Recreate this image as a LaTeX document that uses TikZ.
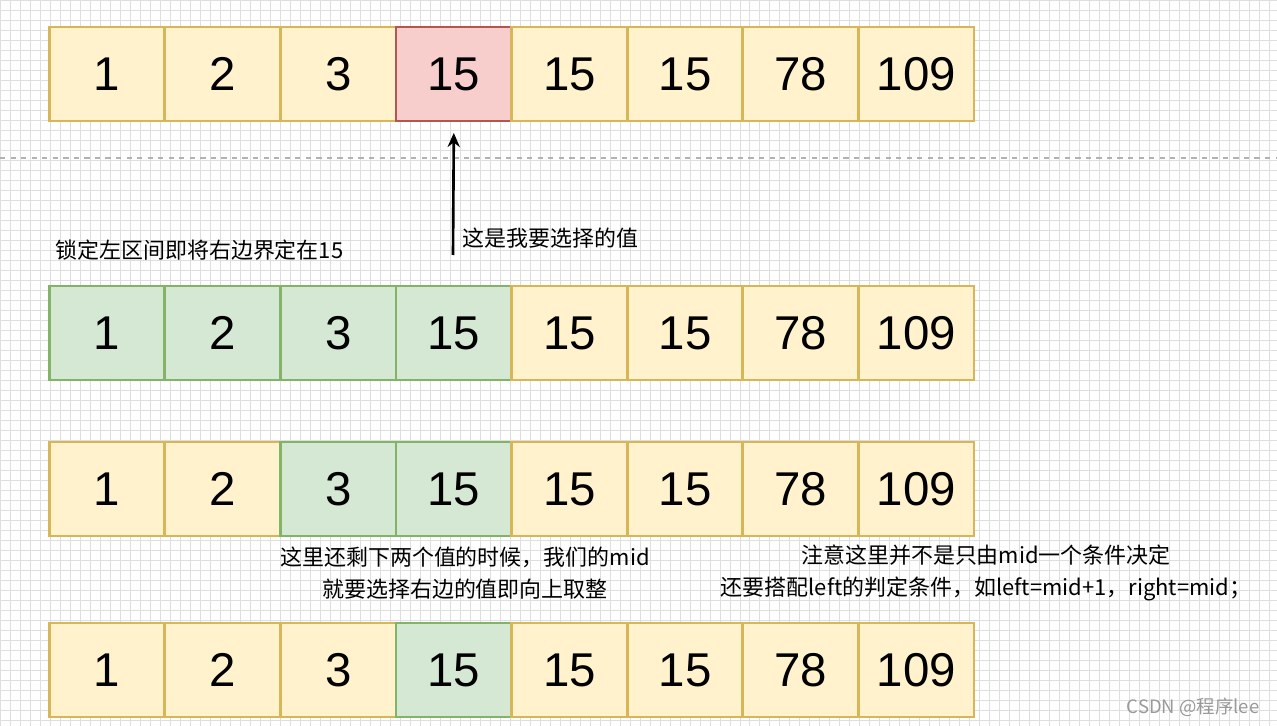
\documentclass[tikz,border=0pt]{standalone}
\usepackage{fontspec}
\usetikzlibrary{arrows.meta}
\setmainfont{Liberation Sans}
\newfontfamily\cjk{Noto Sans CJK SC}
\begin{document}
\begin{tikzpicture}[x=0.02cm,y=-0.02cm]
\definecolor{yf}{HTML}{FFF2CC}\definecolor{ys}{HTML}{D6B656}
\definecolor{rf}{HTML}{F8CECC}\definecolor{rs}{HTML}{B85450}
\definecolor{gf}{HTML}{D5E8D4}\definecolor{gs}{HTML}{82B366}
\tikzset{cell/.style={draw=ys,fill=yf,line width=1.6pt,minimum width=115.6*0.02cm,minimum height=94*0.02cm,inner sep=0pt,font=\fontsize{27}{30}\selectfont},
red/.style={draw=rs,fill=rf},grn/.style={draw=gs,fill=gf},
lab/.style={font=\cjk\fontsize{12.5}{18}\selectfont,inner sep=0pt,align=center}}
\useasboundingbox (0,0) rectangle (1277,726);
\fill[white] (0,0) rectangle (1277,726);
\draw[black!13,line width=0.4pt,step=0.2cm] (0,0) grid (1277,726);
\draw[black!30,dashed,line width=0.6pt] (0,158) -- (1277,158);
\def\vals{1,2,3,15,15,15,78,109}
\foreach \r/\y/\g in {1/74/x,2/333/0123,3/489/23,4/670/3}{
 \foreach \v [count=\i from 0] in \vals {
  \def\st{}
  \ifnum\r=1 \ifnum\i=3 \def\st{red}\fi\fi
  \ifnum\r=2 \ifnum\i<4 \def\st{grn}\fi\fi
  \ifnum\r=3 \ifnum\i>1 \ifnum\i<4 \def\st{grn}\fi\fi\fi
  \ifnum\r=4 \ifnum\i=3 \def\st{grn}\fi\fi
  \node[cell,\st] (c\r\i) at ({107+115.6*\i},\y) {\v};
 }
}
\coordinate (as) at (453,255);
\draw[line width=1.5pt,-{Stealth[length=8pt,width=7pt]}] (as) -- (c13.south |- 0,133);
\node[lab,anchor=west] (t1) at (462,238) {这是我要选择的值};
\node[lab,anchor=west] (t2) at (55,250) {锁定左区间即将右边界定在15};
\node[lab] (t3) at (465,573) {这里还剩下两个值的时候，我们的mid\\就要选择右边的值即向上取整};
\node[lab] (t4) at (986,573) {注意这里并不是只由mid一个条件决定\\还要搭配left的判定条件，如left=mid+1，right=mid；};
\node[font=\cjk\fontsize{10.5}{12}\selectfont,text=black!40,inner sep=0pt] (wm) at (1193,707) {CSDN @程序lee};
\end{tikzpicture}
\end{document}
